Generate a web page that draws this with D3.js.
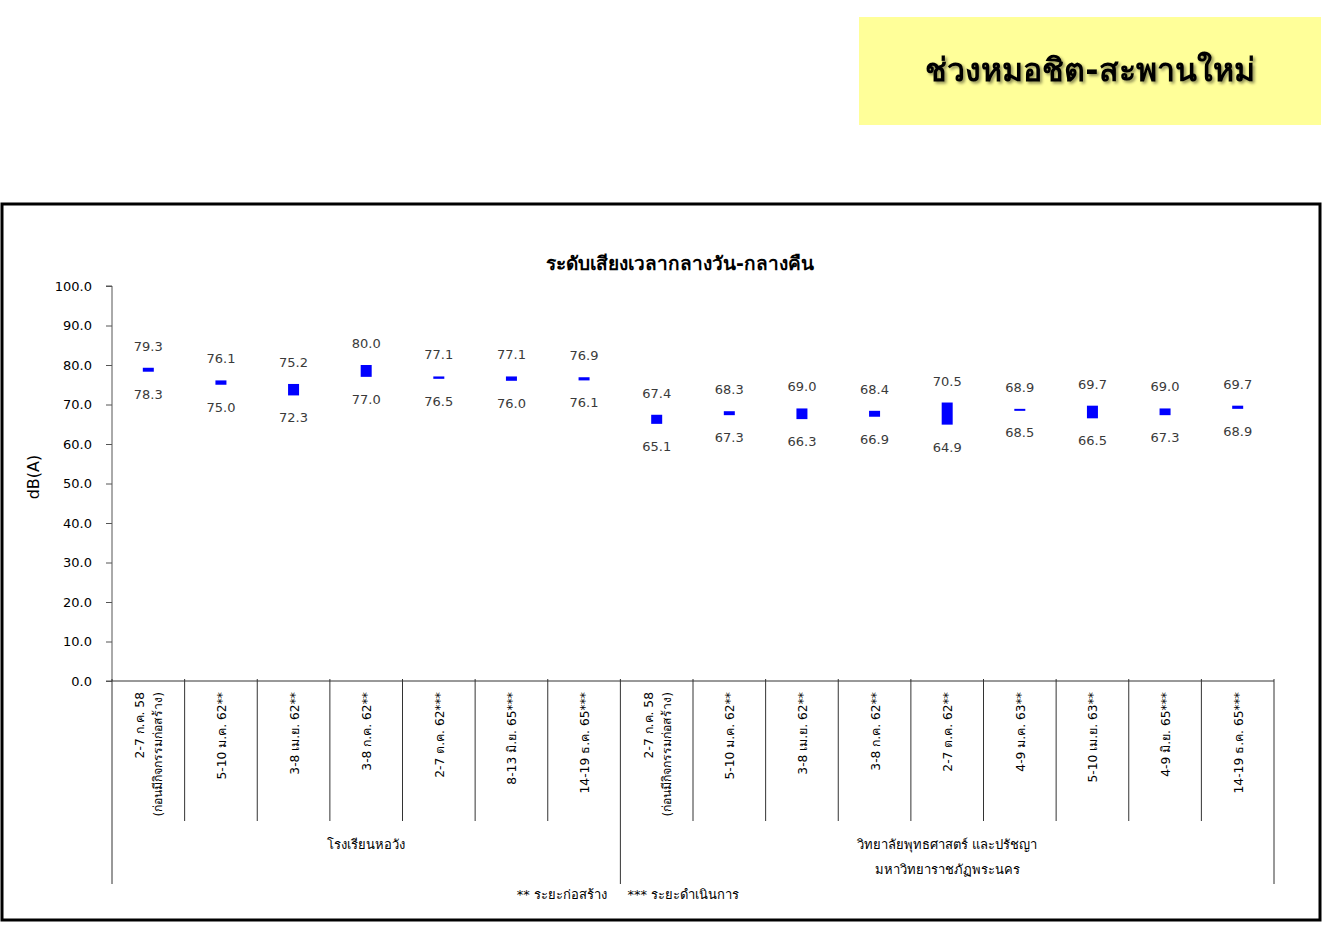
<!DOCTYPE html>
<html>
<head>
<meta charset="utf-8">
<script src="https://cdn.jsdelivr.net/npm/d3@7"></script>
<style>
  body { margin: 0; background: #fff; }
  svg text { font-family: Tahoma, "DejaVu Sans", "Noto Sans", sans-serif; }
</style>
</head>
<body>
<svg id="chart" width="1322" height="928"></svg>
<script>
  // categories (dates), two lines for the first one of each group
  var categories = [
    ['2-7 ก.ค. 58', '(ก่อนมีกิจกรรมก่อสร้าง)'],
    ['5-10 ม.ค. 62**'],
    ['3-8 เม.ย. 62**'],
    ['3-8 ก.ค. 62**'],
    ['2-7 ต.ค. 62***'],
    ['8-13 มิ.ย. 65***'],
    ['14-19 ธ.ค. 65***'],
    ['2-7 ก.ค. 58', '(ก่อนมีกิจกรรมก่อสร้าง)'],
    ['5-10 ม.ค. 62**'],
    ['3-8 เม.ย. 62**'],
    ['3-8 ก.ค. 62**'],
    ['2-7 ต.ค. 62**'],
    ['4-9 ม.ค. 63**'],
    ['5-10 เม.ย. 63**'],
    ['4-9 มิ.ย. 65***'],
    ['14-19 ธ.ค. 65***']
  ];
  var highValues = [79.3, 76.1, 75.2, 80.0, 77.1, 77.1, 76.9, 67.4, 68.3, 69.0, 68.4, 70.5, 68.9, 69.7, 69.0, 69.7];
  var lowValues = [78.3, 75.0, 72.3, 77.0, 76.5, 76.0, 76.1, 65.1, 67.3, 66.3, 66.9, 64.9, 68.5, 66.5, 67.3, 68.9];
  var groups = [
    { name: ['โรงเรียนหอวัง'], count: 7 },
    { name: ['วิทยาลัยพุทธศาสตร์ และปรัชญา', 'มหาวิทยาราชภัฏพระนคร'], count: 9 }
  ];
  var yTicks = [0, 10, 20, 30, 40, 50, 60, 70, 80, 90, 100];

  (function() {
    var svg = d3.select('#chart');

    // header box
    svg.append('rect').attr('x', 859).attr('y', 17).attr('width', 462).attr('height', 108)
      .attr('fill', '#ffff99');
    var defs = svg.append('defs');
    var f = defs.append('filter').attr('id', 'shadow').attr('x', '-10%').attr('y', '-30%')
      .attr('width', '120%').attr('height', '160%');
    f.append('feDropShadow').attr('dx', 2).attr('dy', 2).attr('stdDeviation', 1.5)
      .attr('flood-color', '#000').attr('flood-opacity', 0.45);
    svg.append('text').attr('x', 1090).attr('y', 81).attr('text-anchor', 'middle')
      .attr('font-size', 32).attr('font-weight', 'bold').attr('filter', 'url(#shadow)')
      .text('ช่วงหมอชิต-สะพานใหม่');

    // frame
    svg.append('rect').attr('x', 2).attr('y', 204).attr('width', 1318).attr('height', 716)
      .attr('fill', 'none').attr('stroke', '#000').attr('stroke-width', 3);

    svg.append('text').attr('x', 680).attr('y', 270).attr('text-anchor', 'middle')
      .attr('font-size', 19).attr('font-weight', 'bold').text('ระดับเสียงเวลากลางวัน-กลางคืน');

    var plotLeft = 112, plotRight = 1274, plotTop = 286, plotBottom = 681;

    var x = d3.scaleBand().domain(d3.range(categories.length)).range([plotLeft, plotRight]);
    var y = d3.scaleLinear().domain([0, 100]).range([plotBottom, plotTop]);

    // y axis
    var yAxis = d3.axisLeft(y).tickValues(yTicks).tickFormat(d3.format('.1f')).tickSize(6).tickPadding(14);
    var yg = svg.append('g').attr('transform', 'translate(' + plotLeft + ',0)').call(yAxis);
    yg.select('.domain').attr('stroke', '#555').attr('d', 'M-6,' + plotTop + 'H0V' + plotBottom + 'H-6');
    yg.selectAll('.tick line').attr('stroke', '#555');
    yg.selectAll('.tick text').attr('font-size', 13).attr('fill', '#000')
      .style('font-family', 'Tahoma, "DejaVu Sans", sans-serif');

    svg.append('text').attr('transform', 'translate(39,477) rotate(-90)')
      .attr('text-anchor', 'middle').attr('font-size', 16).text('dB(A)');

    // category axis lines
    var cat = svg.append('g');
    cat.append('line').attr('x1', plotLeft).attr('x2', plotRight).attr('y1', plotBottom).attr('y2', plotBottom)
      .attr('stroke', '#333');
    var boundaries = d3.range(categories.length + 1);
    var groupEdges = [0];
    groups.forEach(function(g) { groupEdges.push(groupEdges[groupEdges.length - 1] + g.count); });
    cat.selectAll('line.sep').data(boundaries).enter().append('line')
      .attr('class', 'sep')
      .attr('x1', function(i) { return plotLeft + i * x.step(); })
      .attr('x2', function(i) { return plotLeft + i * x.step(); })
      .attr('y1', plotBottom - 2)
      .attr('y2', function(i) { return groupEdges.indexOf(i) >= 0 ? 884 : 821; })
      .attr('stroke', '#333');

    // category labels
    var labels = cat.selectAll('g.lab').data(categories).enter().append('g')
      .attr('class', 'lab')
      .attr('transform', function(d, i) {
        var cx = x(i) + x.bandwidth() / 2;
        return 'translate(' + cx + ',692) rotate(-90)';
      });
    labels.each(function(d) {
      var g = d3.select(this);
      var n = d.length;
      d.forEach(function(line, k) {
        g.append('text').attr('x', 0).attr('y', (k - (n - 1) / 2) * 18 + 5)
          .attr('text-anchor', 'end').attr('font-size', 12.3).text(line);
      });
    });

    // group labels
    groups.forEach(function(g, gi) {
      var cx = plotLeft + (groupEdges[gi] + groupEdges[gi + 1]) / 2 * x.step();
      g.name.forEach(function(line, k) {
        svg.append('text').attr('x', cx).attr('y', 849 + k * 25).attr('text-anchor', 'middle')
          .attr('font-size', 13).text(line);
      });
    });

    svg.append('text').attr('x', 628).attr('y', 899).attr('text-anchor', 'middle')
      .attr('font-size', 13).attr('xml:space', 'preserve')
      .text('** ระยะก่อสร้าง     *** ระยะดำเนินการ');

    // floating bars
    var bw = 11;
    var idx = d3.range(categories.length);
    svg.append('g').selectAll('rect').data(idx).enter().append('rect')
      .attr('x', function(i) { return x(i) + x.bandwidth() / 2 - bw / 2; })
      .attr('y', function(i) { return y(highValues[i]); })
      .attr('width', bw)
      .attr('height', function(i) { return Math.max(2, y(lowValues[i]) - y(highValues[i])); })
      .attr('fill', '#0000ff');

    var vl = svg.append('g').attr('font-size', 13).attr('fill', '#3a3a3a').attr('text-anchor', 'middle');
    vl.selectAll('text.hi').data(idx).enter().append('text').attr('class', 'hi')
      .attr('x', function(i) { return x(i) + x.bandwidth() / 2; })
      .attr('y', function(i) { return y(highValues[i]) - 17; })
      .text(function(i) { return highValues[i].toFixed(1); });
    vl.selectAll('text.lo').data(idx).enter().append('text').attr('class', 'lo')
      .attr('x', function(i) { return x(i) + x.bandwidth() / 2; })
      .attr('y', function(i) { return y(lowValues[i]) + 27; })
      .text(function(i) { return lowValues[i].toFixed(1); });
  })();
</script>
</body>
</html>
